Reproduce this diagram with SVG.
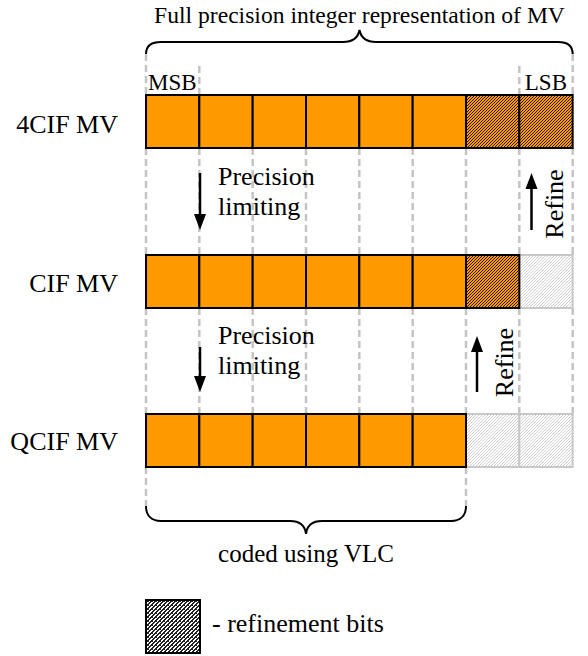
<svg xmlns="http://www.w3.org/2000/svg" width="588" height="656" viewBox="0 0 588 656">
<style>
text{font-family:"Liberation Serif","Times New Roman",serif;fill:#000}
.o{fill:#FF9900;stroke:#000;stroke-width:2}
.h{fill:url(#hatchO);stroke:#000;stroke-width:2}
.g{fill:url(#hatchG);stroke:#c8c8c8;stroke-width:2}
.d{stroke:#c4c4c4;stroke-width:2.5;stroke-dasharray:7 4;fill:none}
.br{fill:none;stroke:#000;stroke-width:2}
.ar{stroke:#000;stroke-width:2.5;fill:none}
.hd{fill:#000}
.lbl{font-size:26px}
</style>
<defs>
<pattern id="hatchO" width="3" height="3" patternUnits="userSpaceOnUse">
<rect width="3" height="3" fill="#FF9900"/>
<rect x="2" y="0" width="1" height="1" fill="#2a1800"/>
<rect x="1" y="1" width="1" height="1" fill="#2a1800"/>
<rect x="0" y="2" width="1" height="1" fill="#2a1800"/>
</pattern>
<pattern id="hatchG" width="3" height="3" patternUnits="userSpaceOnUse">
<rect width="3" height="3" fill="#fff"/>
<rect x="2" y="0" width="1" height="1" fill="#cfcfcf"/>
<rect x="1" y="1" width="1" height="1" fill="#cfcfcf"/>
<rect x="0" y="2" width="1" height="1" fill="#cfcfcf"/>
</pattern>
<pattern id="hatchL" width="4" height="4" patternUnits="userSpaceOnUse">
<rect width="4" height="4" fill="#fff"/>
<path d="M0,0h1v1h-1z M3,0h1v1h-1z M2,1h2v1h-2z M1,2h2v1h-2z M0,3h2v1h-2z M0,1h1v1h-1z" fill="#222"/>
</pattern>
</defs>

<g id="connectors">
<g id="guides">
<path class="d" d="M146,54 V95 M572.7,54 V95 M199.3,66 V95 M519.3,66 V95"/>
<path class="d" d="M146,148 V255 M199.3,148 V255 M252.7,148 V255 M306,148 V255 M359.3,148 V255 M412.7,148 V255 M466,148 V255 M519.3,148 V255 M572.7,148 V255"/>
<path class="d" d="M146,308 V414 M199.3,308 V414 M252.7,308 V414 M306,308 V414 M359.3,308 V414 M412.7,308 V414 M466,308 V414 M519.3,308 V414 M572.7,308 V414"/>
<path class="d" d="M146,467 V506 M466,467 V506"/>
</g>
<g id="arrow-down-1">
<line class="ar" x1="200" y1="173" x2="200" y2="216"/>
<path class="hd" d="M194,214 L206,214 L200,230 Z"/>
</g>
<g id="arrow-down-2">
<line class="ar" x1="200" y1="347" x2="200" y2="378"/>
<path class="hd" d="M194,376 L206,376 L200,392 Z"/>
</g>
<g id="arrow-up-1">
<line class="ar" x1="531.5" y1="230" x2="531.5" y2="187"/>
<path class="hd" d="M525.5,189 L537.5,189 L531.5,173 Z"/>
</g>
<g id="arrow-up-2">
<line class="ar" x1="477" y1="392" x2="477" y2="350"/>
<path class="hd" d="M471,352 L483,352 L477,336 Z"/>
</g>
</g>

<g id="title">
<text x="359.5" y="23" font-size="23.6" text-anchor="middle">Full precision integer representation of MV</text>
<path class="br" d="M146,54 C146,46 151,42 161,42 L343,42 C353,42 358,38 359.5,30 C361,38 366,42 376,42 L558,42 C568,42 572.7,46 572.7,54"/>
<text x="148" y="90" font-size="23">MSB</text>
<text x="567" y="90" font-size="23" text-anchor="end">LSB</text>
</g>

<g id="row-4cif">
<text class="lbl" x="118" y="133" text-anchor="end">4CIF MV</text>
<rect class="o" x="146" y="95" width="53.33" height="53"/>
<rect class="o" x="199.33" y="95" width="53.33" height="53"/>
<rect class="o" x="252.67" y="95" width="53.33" height="53"/>
<rect class="o" x="306" y="95" width="53.33" height="53"/>
<rect class="o" x="359.33" y="95" width="53.33" height="53"/>
<rect class="o" x="412.67" y="95" width="53.33" height="53"/>
<rect class="h" x="466" y="95" width="53.33" height="53"/>
<rect class="h" x="519.33" y="95" width="53.33" height="53"/>
</g>

<g id="precision-1">
<text class="lbl" x="218" y="185">Precision</text>
<text class="lbl" x="218" y="215">limiting</text>
</g>
<g id="refine-1">
<text class="lbl" transform="translate(563,204) rotate(-90)" text-anchor="middle">Refine</text>
</g>

<g id="row-cif">
<text class="lbl" x="118" y="292" text-anchor="end">CIF MV</text>
<rect class="g" x="519.33" y="255" width="53.33" height="53"/>
<rect class="o" x="146" y="255" width="53.33" height="53"/>
<rect class="o" x="199.33" y="255" width="53.33" height="53"/>
<rect class="o" x="252.67" y="255" width="53.33" height="53"/>
<rect class="o" x="306" y="255" width="53.33" height="53"/>
<rect class="o" x="359.33" y="255" width="53.33" height="53"/>
<rect class="o" x="412.67" y="255" width="53.33" height="53"/>
<rect class="h" x="466" y="255" width="53.33" height="53"/>
</g>

<g id="precision-2">
<text class="lbl" x="218" y="344">Precision</text>
<text class="lbl" x="218" y="374">limiting</text>
</g>
<g id="refine-2">
<text class="lbl" transform="translate(513,362.5) rotate(-90)" text-anchor="middle">Refine</text>
</g>

<g id="row-qcif">
<text class="lbl" x="118" y="450" text-anchor="end">QCIF MV</text>
<rect class="g" x="466" y="414" width="53.33" height="53"/>
<rect class="g" x="519.33" y="414" width="53.33" height="53"/>
<rect class="o" x="146" y="414" width="53.33" height="53"/>
<rect class="o" x="199.33" y="414" width="53.33" height="53"/>
<rect class="o" x="252.67" y="414" width="53.33" height="53"/>
<rect class="o" x="306" y="414" width="53.33" height="53"/>
<rect class="o" x="359.33" y="414" width="53.33" height="53"/>
<rect class="o" x="412.67" y="414" width="53.33" height="53"/>
</g>

<g id="vlc">
<path class="br" d="M146,506 C146,515 151,521 161,521 L290,521 C300,521 305,525 306,534 C307,525 312,521 322,521 L451,521 C461,521 466,515 466,506"/>
<text x="306" y="562" font-size="25" text-anchor="middle">coded using VLC</text>
</g>

<g id="legend">
<rect x="146" y="600" width="54" height="53" fill="url(#hatchL)" stroke="#000" stroke-width="2"/>
<text class="lbl" x="212" y="632">- refinement bits</text>
</g>
</svg>
